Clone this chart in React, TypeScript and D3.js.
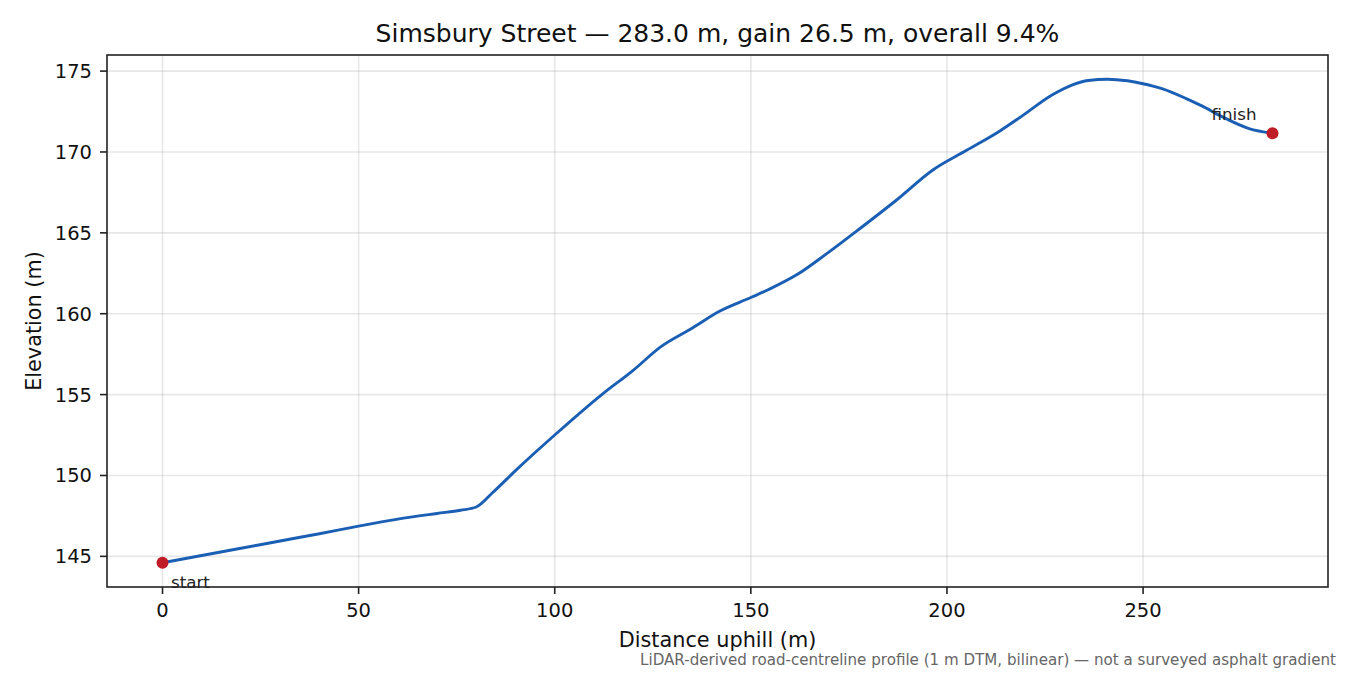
import { useEffect, useRef } from "react";
import * as d3 from "d3";

const distances = [
    0, 10, 20, 30, 40, 50, 60, 70, 76, 80, 84, 90, 100, 112, 120, 127, 135, 142, 150, 155, 162, 169,
    178, 187, 196.5, 205, 213.5, 219, 227, 232, 236, 241, 246, 250, 255, 261, 265, 270, 277, 283,
];
const elevations = [
    144.6, 145.05, 145.5, 145.95, 146.4, 146.87, 147.3, 147.65, 147.85, 148.05, 148.9, 150.3, 152.5,
    155.0, 156.5, 157.95, 159.1, 160.15, 161.0, 161.55, 162.45, 163.65, 165.3, 167.0, 168.9, 170.1, 171.3,
    172.2, 173.55, 174.15, 174.42, 174.5, 174.4, 174.22, 173.9, 173.3, 172.85, 172.2, 171.45, 171.16,
];
const xTicks = [0, 50, 100, 150, 200, 250];
const yTicks = [145, 150, 155, 160, 165, 170, 175];

const title = "Simsbury Street \u2014 283.0 m, gain 26.5 m, overall 9.4%";
const footnote = "LiDAR-derived road-centreline profile (1 m DTM, bilinear) \u2014 not a surveyed asphalt gradient";

const App = () => {
    const svgRef = useRef<SVGSVGElement>(null);

    useEffect(() => {
        document.body.style.margin = "0";
        const svg = d3.select(svgRef.current);
        svg.selectAll("*").remove();

        const width = 1350;
        const height = 675;
        const left = 107, right = 1328, top = 55, bottom = 587;
        const font = "DejaVu Sans, sans-serif";
        const tickSize = 19.5;
        const labelSize = 20.8;

        svg.attr("width", width).attr("height", height).style("font-family", font).style("display", "block");
        svg.append("rect").attr("width", width).attr("height", height).attr("fill", "#fff");

        const xMin = d3.min(distances)!, xMax = d3.max(distances)!;
        const yMin = d3.min(elevations)!, yMax = d3.max(elevations)!;
        const xPad = (xMax - xMin) * 0.05, yPad = (yMax - yMin) * 0.05;

        const x = d3.scaleLinear().domain([xMin - xPad, xMax + xPad]).range([left, right]);
        const y = d3.scaleLinear().domain([yMin - yPad, yMax + yPad]).range([bottom, top]);

        // grid
        const grid = svg.append("g").attr("stroke", "#b0b0b0").attr("stroke-opacity", 0.3).attr("stroke-width", 1.6);
        grid.selectAll(".gx").data(xTicks).enter().append("line")
            .attr("x1", (d) => x(d)).attr("x2", (d) => x(d)).attr("y1", top).attr("y2", bottom);
        grid.selectAll(".gy").data(yTicks).enter().append("line")
            .attr("y1", (d) => y(d)).attr("y2", (d) => y(d)).attr("x1", left).attr("x2", right);

        // profile
        const pts = distances.map((d, i) => [d, elevations[i]] as [number, number]);
        const line = d3.line<[number, number]>()
            .x((d) => x(d[0]))
            .y((d) => y(d[1]))
            .curve(d3.curveMonotoneX);
        svg.append("path").datum(pts).attr("d", line).attr("fill", "none")
            .attr("stroke", "#1a5fb4").attr("stroke-width", 2.9).attr("stroke-linejoin", "round");

        const first = pts[0], last = pts[pts.length - 1];
        svg.selectAll(".end").data([first, last]).enter().append("circle")
            .attr("cx", (d) => x(d[0])).attr("cy", (d) => y(d[1])).attr("r", 6).attr("fill", "#c01c28");

        svg.append("text").attr("x", x(first[0]) + 8.5).attr("y", y(first[1]) + 25)
            .attr("font-size", 16.7).attr("fill", "#222").text("start");
        svg.append("text").attr("x", x(last[0]) - 16).attr("y", y(last[1]) - 13)
            .attr("font-size", 16.7).attr("fill", "#222").attr("text-anchor", "end").text("finish");

        // frame
        svg.append("rect").attr("x", left).attr("y", top).attr("width", right - left).attr("height", bottom - top)
            .attr("fill", "none").attr("stroke", "#222").attr("stroke-width", 1.6);

        // ticks
        const tx = svg.append("g");
        tx.selectAll("line").data(xTicks).enter().append("line")
            .attr("x1", (d) => x(d)).attr("x2", (d) => x(d)).attr("y1", bottom).attr("y2", bottom + 7)
            .attr("stroke", "#222").attr("stroke-width", 1.6);
        tx.selectAll("text").data(xTicks).enter().append("text")
            .attr("x", (d) => x(d)).attr("y", bottom + 30).attr("text-anchor", "middle")
            .attr("font-size", tickSize).attr("fill", "#111").text((d) => d);
        const ty = svg.append("g");
        ty.selectAll("line").data(yTicks).enter().append("line")
            .attr("y1", (d) => y(d)).attr("y2", (d) => y(d)).attr("x1", left - 7).attr("x2", left)
            .attr("stroke", "#222").attr("stroke-width", 1.6);
        ty.selectAll("text").data(yTicks).enter().append("text")
            .attr("x", left - 15).attr("y", (d) => y(d) + 7).attr("text-anchor", "end")
            .attr("font-size", tickSize).attr("fill", "#111").text((d) => d);

        // labels
        svg.append("text").attr("x", (left + right) / 2).attr("y", 647).attr("text-anchor", "middle")
            .attr("font-size", labelSize).attr("fill", "#111").text("Distance uphill (m)");
        svg.append("text").attr("transform", `translate(41,${(top + bottom) / 2}) rotate(-90)`)
            .attr("text-anchor", "middle").attr("font-size", labelSize).attr("fill", "#111").text("Elevation (m)");
        svg.append("text").attr("x", (left + right) / 2).attr("y", 42).attr("text-anchor", "middle")
            .attr("font-size", 25).attr("fill", "#111").text(title);
        svg.append("text").attr("x", 1336).attr("y", 665).attr("text-anchor", "end")
            .attr("font-size", 15.1).attr("fill", "#666").text(footnote);
    }, []);

    return <svg ref={svgRef} />;
};

export default App;
